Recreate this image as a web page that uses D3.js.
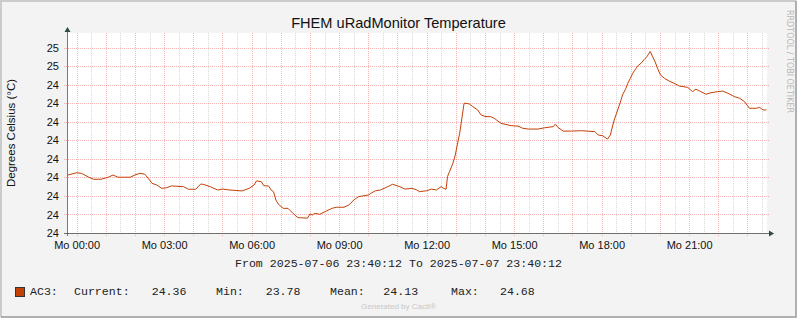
<!DOCTYPE html>
<html lang="en">
<head>
<meta charset="UTF-8">
<style>
    body { margin: 0; background: #fff; }
    svg { display: block; }
    .grid-minor { stroke: rgba(140,140,140,0.32); stroke-dasharray: 1,1; shape-rendering: crispEdges; }
    .grid-major { stroke: rgba(235,30,30,0.32); stroke-dasharray: 1,1; shape-rendering: crispEdges; }
    .axis text { font-family: "Liberation Sans", Arial, sans-serif; font-size: 11px; fill: #111; }
    .axis path, .axis line { display: none; }
    .mono { font-family: "Liberation Mono", "Courier New", monospace; font-size: 11.6px; fill: #222; }
</style>
</head>
<body>
<svg width="797" height="318"></svg>
<script src="https://cdn.jsdelivr.net/npm/d3@7"></script>
<script>
// temperature readings, time of day (HH:MM) and degrees C
var times = ["23:42","00:00","00:10","00:25","00:35","00:50","01:05","01:15","01:25","01:50",
    "02:00","02:10","02:20","02:30","02:35","02:45","02:55","03:05","03:15","03:40",
    "03:50","04:05","04:15","04:20","04:35","04:50","05:00","05:15","05:40","05:55",
    "06:05","06:10","06:20","06:25","06:35","06:40","06:45","06:50","06:55","07:05",
    "07:15","07:25","07:35","07:55","08:00","08:05","08:10","08:20","08:35","08:45",
    "08:55","09:10","09:20","09:30","09:40","10:00","10:05","10:15","10:25","10:40",
    "10:50","11:05","11:15","11:30","11:40","11:45","12:00","12:10","12:20","12:30",
    "12:35","12:40","12:43","12:47","12:54","12:59","13:03","13:08","13:12","13:17",
    "13:21","13:28","13:35","13:45","13:52","14:02","14:12","14:19","14:33","14:54",
    "15:08","15:18","15:29","15:49","16:03","16:20","16:25","16:30","16:41","16:58",
    "17:19","17:46","17:53","18:02","18:12","18:18","18:23","18:26","18:33","18:40",
    "18:43","18:50","18:54","18:59","19:04","19:11","19:14","19:21","19:28","19:33",
    "19:40","19:45","19:50","19:55","20:01","20:09","20:19","20:29","20:40","20:57",
    "21:07","21:14","21:24","21:35","21:45","21:59","22:09","22:20","22:33","22:44",
    "22:54","23:04","23:18","23:25","23:32","23:39"];
var temps = [24.013,24.025,24.022,24.001,23.990,23.990,24.001,24.013,24.001,24.001,
    24.013,24.022,24.018,23.986,23.968,23.959,23.941,23.944,23.954,23.950,
    23.936,23.936,23.964,23.963,23.950,23.932,23.937,23.932,23.927,23.941,
    23.959,23.981,23.977,23.955,23.954,23.932,23.923,23.878,23.855,23.833,
    23.833,23.806,23.783,23.780,23.803,23.797,23.806,23.801,23.820,23.833,
    23.839,23.839,23.851,23.878,23.896,23.905,23.914,23.928,23.932,23.950,
    23.963,23.950,23.937,23.941,23.932,23.923,23.928,23.937,23.932,23.950,
    23.941,23.936,24.004,24.031,24.076,24.121,24.175,24.238,24.310,24.400,
    24.400,24.396,24.382,24.364,24.337,24.328,24.328,24.319,24.292,24.279,
    24.277,24.265,24.261,24.261,24.268,24.274,24.287,24.270,24.250,24.250,
    24.252,24.247,24.229,24.225,24.207,24.229,24.283,24.310,24.364,24.418,
    24.445,24.481,24.508,24.535,24.562,24.589,24.601,24.616,24.637,24.651,
    24.680,24.651,24.624,24.589,24.553,24.535,24.520,24.508,24.493,24.486,
    24.463,24.476,24.463,24.449,24.457,24.463,24.466,24.454,24.436,24.427,
    24.409,24.373,24.373,24.378,24.364,24.364];

var yTicks = [23.7, 23.8, 23.9, 24.0, 24.1, 24.2, 24.3, 24.4, 24.5, 24.6, 24.7];
var yTickLabels = ["24","24","24","24","24","24","24","24","24","25","25"];
var xTickLabels = ["Mo 00:00","Mo 03:00","Mo 06:00","Mo 09:00","Mo 12:00","Mo 15:00","Mo 18:00","Mo 21:00"];

var legendName = "AC3:";
var legendStats = [["Current:", "24.36"], ["Min:", "23.78"], ["Mean:", "24.13"], ["Max:", "24.68"]];

var startTime = new Date(2025, 6, 6, 23, 40, 12),
    endTime = new Date(2025, 6, 7, 23, 40, 12);

var lineColor = "#c44106",
    axisColor = "#2c4d43";

// parse HH:MM, rolling over to the next day when the clock goes back
var day = 6, prevMin = -1;
var data = times.map(function(t, i) {
    var p = t.split(":"), m = +p[0] * 60 + +p[1];
    if (m < prevMin) day++;
    prevMin = m;
    return {date: new Date(2025, 6, day, +p[0], +p[1]), value: temps[i]};
});

var svg = d3.select("svg"),
    W = +svg.attr("width"), H = +svg.attr("height");

var plot = {left: 67, top: 33, width: 700, height: 200};

var x = d3.scaleTime().domain([startTime, endTime]).range([plot.left, plot.left + plot.width]),
    y = d3.scaleLinear().domain([23.7, 23.7 + 0.1 * plot.height / 18.53])
        .range([plot.top + plot.height, plot.top]);

// canvas and border
svg.append("rect").attr("width", W).attr("height", H).attr("fill", "#f3f3f3");
svg.append("path").attr("d", "M1,317V1H796").attr("fill", "none").attr("stroke", "#cbcbcb").attr("stroke-width", 2);
svg.append("path").attr("d", "M1,317H796V1").attr("fill", "none").attr("stroke", "#9a9a9a").attr("stroke-width", 1.5);

svg.append("rect")
    .attr("x", plot.left).attr("y", plot.top)
    .attr("width", plot.width).attr("height", plot.height)
    .attr("fill", "#fff");

// grid
var g = svg.append("g");
var half = d3.timeMinute.every(30).range(startTime, endTime).filter(function(d) { return d.getMinutes() !== 0; });
var hours = d3.timeHour.range(startTime, endTime);

g.selectAll(".gm").data(half).enter().append("line")
    .attr("class", "grid-minor")
    .attr("x1", function(d) { return Math.round(x(d)) + 0.5; })
    .attr("x2", function(d) { return Math.round(x(d)) + 0.5; })
    .attr("y1", plot.top).attr("y2", plot.top + plot.height + 2);

g.selectAll(".gM").data(hours).enter().append("line")
    .attr("class", "grid-major")
    .attr("x1", function(d) { return Math.round(x(d)) + 0.5; })
    .attr("x2", function(d) { return Math.round(x(d)) + 0.5; })
    .attr("y1", plot.top).attr("y2", plot.top + plot.height + 4);

g.selectAll(".gy").data(yTicks).enter().append("line")
    .attr("class", "grid-major")
    .attr("x1", plot.left - 3).attr("x2", plot.left + plot.width + 2)
    .attr("y1", function(d) { return Math.round(y(d)) + 0.5; })
    .attr("y2", function(d) { return Math.round(y(d)) + 0.5; });

// axes labels
svg.append("g").attr("class", "axis")
    .attr("transform", "translate(" + (plot.left - 5) + ",0)")
    .call(d3.axisLeft(y).tickValues(yTicks).tickSize(0).tickPadding(3)
        .tickFormat(function(d, i) { return yTickLabels[i]; }));

svg.append("g").attr("class", "axis")
    .attr("transform", "translate(0," + (plot.top + plot.height) + ")")
    .call(d3.axisBottom(x).tickValues(d3.timeHour.every(3).range(startTime, endTime)).tickSize(0).tickPadding(8)
        .tickFormat(function(d, i) { return xTickLabels[i]; }));

// data line
svg.append("path")
    .datum(data)
    .attr("fill", "none")
    .attr("stroke", lineColor)
    .attr("stroke-width", 1)
    .attr("d", d3.line().x(function(d) { return x(d.date); }).y(function(d) { return y(d.value); }));

// axis lines with arrows
var ax = svg.append("g");
ax.append("line").attr("x1", plot.left - 3).attr("x2", plot.left + plot.width + 3)
    .attr("y1", plot.top + plot.height + 0.5).attr("y2", plot.top + plot.height + 0.5)
    .attr("stroke", axisColor).attr("stroke-opacity", 0.7);
ax.append("line").attr("x1", plot.left + 0.5).attr("x2", plot.left + 0.5)
    .attr("y1", plot.top + plot.height + 3).attr("y2", plot.top - 2)
    .attr("stroke", axisColor).attr("stroke-opacity", 0.7);
ax.append("path")
    .attr("d", "M" + (plot.left + plot.width + 2) + "," + (plot.top + plot.height - 2.5) +
        "l5,3l-5,3z")
    .attr("fill", axisColor);
ax.append("path")
    .attr("d", "M" + (plot.left - 2.5) + "," + (plot.top - 1) + "l3,-5l3,5z")
    .attr("fill", axisColor);

// title and labels
svg.append("text")
    .attr("x", W / 2).attr("y", 27.5)
    .attr("text-anchor", "middle")
    .style("font-family", "'Liberation Sans', Arial, sans-serif")
    .style("font-size", "14.6px").attr("fill", "#111")
    .text("FHEM uRadMonitor Temperature");

svg.append("text")
    .attr("transform", "translate(15," + (plot.top + plot.height / 2) + ") rotate(-90)")
    .attr("text-anchor", "middle")
    .style("font-family", "'Liberation Sans', Arial, sans-serif")
    .style("font-size", "11.5px").attr("fill", "#111")
    .text("Degrees Celsius (°C)");

svg.append("text")
    .attr("transform", "translate(787,10) rotate(90)")
    .style("font-family", "'DejaVu Sans', sans-serif")
    .style("font-size", "8px").attr("fill", "#b8b8b8")
    .text("RRDTOOL / TOBI OETIKER");

svg.append("text")
    .attr("class", "mono")
    .attr("x", W / 2).attr("y", 267)
    .attr("text-anchor", "middle")
    .text("From 2025-07-06 23:40:12 To 2025-07-07 23:40:12");

// legend
svg.append("rect")
    .attr("x", 15.5).attr("y", 287.5).attr("width", 9).attr("height", 9)
    .attr("fill", lineColor).attr("stroke", "#333");

var legendX = [30, 74, 151.7, 216, 265.7, 330, 383.3, 451, 500];
var legendItems = [legendName];
legendStats.forEach(function(s) { legendItems.push(s[0], s[1]); });
svg.selectAll(".leg").data(legendItems).enter().append("text")
    .attr("class", "mono")
    .attr("x", function(d, i) { return legendX[i]; })
    .attr("y", 295)
    .text(function(d) { return d; });

svg.append("text")
    .attr("x", W / 2).attr("y", 309)
    .attr("text-anchor", "middle")
    .style("font-family", "'Liberation Sans', Arial, sans-serif")
    .style("font-size", "8px").attr("fill", "#c8c8c8")
    .text("Generated by Cacti®");
</script>
</body>
</html>
